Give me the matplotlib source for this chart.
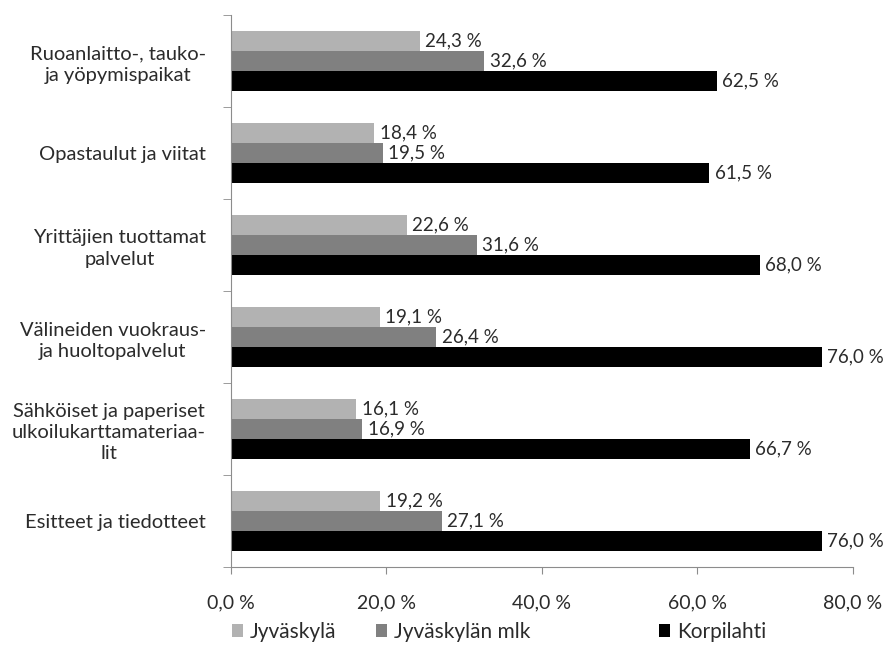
import matplotlib.pyplot as plt
from matplotlib.patches import Patch
from matplotlib.ticker import FuncFormatter, FixedLocator
import numpy as np

plt.rcParams['font.family'] = ['Lato', 'DejaVu Sans']

categories = [
    "Ruoanlaitto-, tauko-\nja yöpymispaikat",
    "Opastaulut ja viitat",
    "Yrittäjien tuottamat\npalvelut",
    "Välineiden vuokraus-\nja huoltopalvelut",
    "Sähköiset ja paperiset\nulkoilukarttamateriaa-\nlit",
    "Esitteet ja tiedotteet",
]
series_names = ["Jyväskylä", "Jyväskylän mlk", "Korpilahti"]
jyvaskyla = [24.3, 18.4, 22.6, 19.1, 16.1, 19.2]
jyvaskylan_mlk = [32.6, 19.5, 31.6, 26.4, 16.9, 27.1]
korpilahti = [62.5, 61.5, 68.0, 76.0, 66.7, 76.0]
colors = ["#b2b2b2", "#808080", "#000000"]
x_ticks = [0, 20, 40, 60, 80]


def pct(v, pos=None):
    return f"{v:.1f} %".replace('.', ',')


fig = plt.figure(figsize=(8.87, 6.49), dpi=100)
ax = fig.add_axes([231 / 887, 1 - 567 / 649, (853 - 231) / 887, (567 - 15) / 649])

y = np.arange(len(categories))
h = 0.2174
text_col = "#2b2b2b"
for i, (vals, col) in enumerate(zip([jyvaskyla, jyvaskylan_mlk, korpilahti], colors)):
    pos = y + (i - 1) * h
    ax.barh(pos, vals, height=h, color=col, edgecolor="none")
    for p, v in zip(pos, vals):
        ax.annotate(pct(v), xy=(v, p), xytext=(4, 0), textcoords="offset points",
                    ha="left", va="center", fontsize=13.5, color=text_col,
                    bbox=dict(facecolor="white", edgecolor="none", pad=0.5))

ax.set_xlim(0, 80)
ax.set_ylim(len(categories) - 0.5, -0.5)
ax.set_xticks(x_ticks)
ax.xaxis.set_major_formatter(FuncFormatter(pct))
ax.set_yticks(y)
ax.set_yticklabels(categories, multialignment="center", linespacing=1.3)
ax.yaxis.set_minor_locator(FixedLocator(np.arange(-0.5, len(categories), 1)))

spine_col = "#8c8c8c"
for s in ["top", "right"]:
    ax.spines[s].set_visible(False)
for s in ["left", "bottom"]:
    ax.spines[s].set_color(spine_col)
ax.tick_params(axis="y", which="major", length=0, pad=18, labelsize=14.5, labelcolor=text_col)
ax.tick_params(axis="y", which="minor", length=6, color=spine_col, direction="out")
ax.tick_params(axis="x", length=5, color=spine_col, direction="out", pad=15,
               labelsize=14, labelcolor=text_col)

legend_x = [232 / 887, 376 / 887, 659 / 887]
for name, col, lx in zip(series_names, colors, legend_x):
    fig.legend(handles=[Patch(facecolor=col, edgecolor="none")], labels=[name],
               loc="center left", bbox_to_anchor=(lx, 1 - 632 / 649), frameon=False,
               borderpad=0, borderaxespad=0,
               fontsize=15, handlelength=0.55, handleheight=0.55, handletextpad=0.3,
               labelcolor=text_col)

fig.savefig("out.png", dpi=100)
